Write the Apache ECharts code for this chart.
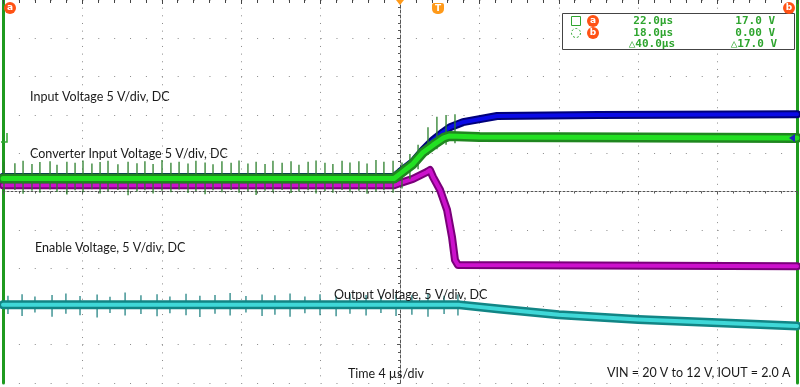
<!DOCTYPE html>
<html><head><meta charset="utf-8">
<script src="https://cdn.jsdelivr.net/npm/echarts@6/dist/echarts.min.js"></script>
<style>html,body{margin:0;padding:0;background:#fff}#c{width:800px;height:387px}</style>
</head><body><div id="c"></div>
<script>
// time in µs (4 µs/div, trigger at 0), voltage in divisions
const blueT  = [-20, -0.3, 0, 0.65, 1.16, 1.66, 2.17, 2.52, 3.17, 4.89, 10, 20];
const blueV  = [0.38, 0.38, 0.51, 0.77, 1.08, 1.34, 1.55, 1.68, 1.81, 1.97, 2.0, 2.02];
const greenT = [-20, -0.3, 0, 0.65, 1.16, 1.66, 2.2, 2.5, 4, 20];
const greenV = [0.34, 0.34, 0.46, 0.72, 1.02, 1.21, 1.40, 1.45, 1.42, 1.40];
const enT    = [-20, -0.3, 0, 0.65, 1.36, 1.51, 1.66, 2.02, 2.37, 2.62, 2.77, 2.92, 20];
const enV    = [0.16, 0.16, 0.22, 0.33, 0.51, 0.56, 0.38, 0.04, -0.48, -1.19, -1.79, -1.92, -1.95];
const outT   = [-20, 3.0, 5.0, 8.0, 12.0, 16.0, 20];
const outV   = [-2.96, -2.96, -3.07, -3.22, -3.34, -3.43, -3.51];

const greenSpikeT  = [-19.95,-19.40,-18.99,-18.54,-18.14,-17.63,-17.28,-16.78,-16.37,-15.97,-15.52,-15.11,-14.71,-14.21,-13.70,-13.25,-12.85,-12.44,-11.99,-11.54,-11.13,-10.68,-10.28,-9.82,-9.42,-8.97,-8.51,-8.11,-7.66,-7.25,-6.80,-6.40,-5.94,-5.49,-5.09,-4.63,-4.23,-3.78,-3.38,-2.92,-2.52,-2.07,-1.66,-1.21,-0.81,-0.35,0.10,0.50,0.91,1.41,1.86,2.32,2.77];
const greenSpikeHi = [0.78,0.74,0.80,0.72,0.77,0.79,0.70,0.78,0.75,0.81,0.73,0.77,0.80,0.71,0.78,0.74,0.79,0.72,0.82,0.75,0.78,0.73,0.80,0.76,0.71,0.79,0.75,0.81,0.73,0.78,0.72,0.80,0.75,0.79,0.70,0.78,0.81,0.75,0.72,0.80,0.76,0.79,0.73,0.82,0.78,0.80,0.76,0.98,1.22,1.68,1.95,2.00,2.02];
const greenSpikeLo = [-0.02,0.04,-0.06,0.02,-0.03,0.05,-0.01,-0.08,0.03,-0.02,0.06,-0.05,0.01,0.04,-0.10,0.00,0.03,-0.05,0.02,-0.02,0.05,-0.04,0.01,-0.07,0.03,-0.02,0.04,-0.03,0.01,-0.09,0.02,-0.02,0.04,-0.04,0.00,0.03,-0.05,0.01,-0.03,0.04,-0.02,0.02,-0.06,0.00,0.03,-0.03,0.08,0.32,0.58,0.95,1.10,1.22,1.26];

const cyanSpikeT  = [-19.75,-19.04,-18.39,-17.53,-16.83,-16.12,-15.26,-14.61,-13.85,-13.05,-12.24,-11.59,-10.78,-10.08,-9.32,-8.56,-7.76,-6.95,-6.30,-5.54,-4.79,-4.03,-3.22,-2.52,-1.71,-0.96,-0.20,0.60,1.41,2.22,2.92];
const cyanSpikeHi = [-2.72,-2.68,-2.74,-2.70,-2.66,-2.73,-2.69,-2.75,-2.64,-2.71,-2.68,-2.74,-2.67,-2.72,-2.70,-2.65,-2.73,-2.69,-2.71,-2.66,-2.74,-2.68,-2.72,-2.67,-2.70,-2.73,-2.68,-2.71,-2.66,-2.72,-2.69];
const cyanSpikeLo = [-3.20,-3.25,-3.16,-3.27,-3.19,-3.23,-3.29,-3.17,-3.24,-3.20,-3.26,-3.18,-3.23,-3.28,-3.19,-3.24,-3.16,-3.25,-3.22,-3.27,-3.18,-3.23,-3.26,-3.19,-3.24,-3.17,-3.25,-3.22,-3.27,-3.20,-3.24];

const labels = {
  input: 'Input Voltage 5 V/div, DC',
  conv: 'Converter Input Voltage 5 V/div, DC',
  enable: 'Enable Voltage, 5 V/div, DC',
  output: 'Output Voltage, 5 V/div, DC',
  time: 'Time 4 µs/div',
  cond: 'VIN = 20 V to 12 V, IOUT = 2.0 A'
};
const cursorRows = [
  ['22.0µs', '17.0 V'],
  ['18.0µs', '0.00 V'],
  ['\u25B340.0µs', '\u25B317.0 V']
];

function zip(t, v) { return t.map((x, i) => [x, v[i]]); }
function zip3(t, a, b) { return t.map((x, i) => [x, a[i], b[i]]); }

function lineSeries(t, v, color, width, z) {
  return { type: 'line', data: zip(t, v), showSymbol: false, symbol: 'none', z: z,
    lineStyle: { color: color, width: width, join: 'round', cap: 'round' }, silent: true, animation: false };
}
function spikeSeries(t, hi, lo, color, width, z) {
  return { type: 'custom', data: zip3(t, hi, lo), z: z, silent: true, animation: false,
    encode: { x: 0, y: [1, 2] },
    renderItem: function (params, api) {
      const p1 = api.coord([api.value(0), api.value(1)]);
      const p2 = api.coord([api.value(0), api.value(2)]);
      return { type: 'line', shape: { x1: p1[0], y1: p1[1], x2: p2[0], y2: p2[1] },
        style: { stroke: color, lineWidth: width } };
    } };
}

const chart = echarts.init(document.getElementById('c'), null, { renderer: 'canvas' });
const font = '12.5px Lato, "Open Sans", sans-serif';
const mono = 'bold 11px "DejaVu Sans Mono", monospace';
const ro = '#ff5214';
const cg = '#2fa52f';

function badge(x, y, letter) {
  return { type: 'group', x: x, y: y, children: [
    { type: 'circle', z: 101, shape: { cx: 0, cy: 0, r: 6 }, style: { fill: ro } },
    { type: 'text', z: 102, x: 0, y: 0, style: { text: letter, fill: '#fff', font: 'bold 9px "DejaVu Sans", sans-serif', align: 'center', verticalAlign: 'middle' } }
  ] };
}
function txt(x, y, s, f, fill, align) {
  return { type: 'text', x: x, y: y, z: 100, style: { text: s, fill: fill, font: f, align: align || 'left', verticalAlign: 'middle' } };
}

const graphics = [
  txt(30, 97, labels.input, font, '#1a1a1a'),
  txt(30, 154, labels.conv, font, '#1a1a1a'),
  txt(35, 248, labels.enable, font, '#1a1a1a'),
  txt(334, 295, labels.output, font, '#1a1a1a'),
  txt(348, 374, labels.time, font, '#1a1a1a'),
  txt(607, 373, labels.cond, font, '#1a1a1a'),
  // cursor readout box
  { type: 'rect', z: 90, shape: { x: 562.5, y: 13.5, width: 232, height: 36 }, style: { fill: '#fff', stroke: '#444', lineWidth: 1 } },
  { type: 'rect', z: 100, shape: { x: 571.5, y: 16.5, width: 9, height: 9 }, style: { fill: 'none', stroke: cg, lineWidth: 1 } },
  { type: 'circle', z: 100, shape: { cx: 576, cy: 33, r: 4.5 }, style: { fill: 'none', stroke: cg, lineWidth: 1, lineDash: [2, 2] } },
  badge(593, 21, 'a'),
  badge(593, 33, 'b'),
  badge(10, 8, 'a'),
  badge(789, 8, 'b'),
  txt(673, 21, cursorRows[0][0], mono, cg, 'right'),
  txt(775, 21, cursorRows[0][1], mono, cg, 'right'),
  txt(673, 33, cursorRows[1][0], mono, cg, 'right'),
  txt(775, 33, cursorRows[1][1], mono, cg, 'right'),
  txt(675, 44, cursorRows[2][0], mono, cg, 'right'),
  txt(777, 44, cursorRows[2][1], mono, cg, 'right'),
  // trigger markers
  { type: 'polygon', z: 100, shape: { points: [[396, 0], [404, 0], [400, 5]] }, style: { fill: '#ff9a1a' } },
  { type: 'group', x: 438, y: 9, children: [
    { type: 'rect', z: 101, shape: { x: -6, y: -6, width: 12, height: 11, r: [2, 2, 5, 5] }, style: { fill: '#ff9a1a' } },
    { type: 'text', z: 102, x: 0, y: -0.5, style: { text: 'T', fill: '#fff', font: 'bold 9px "DejaVu Sans", sans-serif', align: 'center', verticalAlign: 'middle' } }
  ] },
  // channel ground marker
  { type: 'polyline', z: 100, shape: { points: [[7, 133], [7, 142], [1, 142]] }, style: { stroke: cg, lineWidth: 1.5, fill: 'none' } },
  { type: 'polygon', z: 100, shape: { points: [[795, 134], [795, 142], [789, 138]] }, style: { fill: '#2020c0' } }
];

const option = {
  backgroundColor: '#fff',
  animation: false,
  grid: { left: 3, right: 3, top: 0, height: 383 },
  xAxis: [
    { type: 'value', min: -20, max: 20, interval: 4,
      axisLine: { show: true, onZero: true, lineStyle: { color: '#555', type: [2, 2], width: 1 } },
      axisTick: { show: true, length: 3, lineStyle: { color: '#555' } },
      minorTick: { show: true, splitNumber: 5, length: 2, lineStyle: { color: '#555' } },
      axisLabel: { show: false },
      splitLine: { show: true, lineStyle: { color: '#8a8a8a', type: [1, 6.66], width: 1 } } },
    { type: 'value', min: -20, max: 20, interval: 4, position: 'top',
      axisLine: { show: false, onZero: false },
      axisTick: { show: true, inside: true, length: 4, lineStyle: { color: '#444' } },
      minorTick: { show: true, splitNumber: 5, length: 3, lineStyle: { color: '#444' } },
      axisLabel: { show: false }, splitLine: { show: false } }
  ],
  yAxis: [
    { type: 'value', min: -5, max: 5, interval: 1, position: 'left',
      axisLine: { show: true, onZero: true, lineStyle: { color: '#555', type: [3, 2], width: 1 } },
      axisTick: { show: true, length: 3, lineStyle: { color: '#555' } },
      minorTick: { show: true, splitNumber: 5, length: 2, lineStyle: { color: '#555' } },
      axisLabel: { show: false },
      splitLine: { show: true, lineStyle: { color: '#8a8a8a', type: [1, 14.88], width: 1 } } },
    { type: 'value', min: -5, max: 5, position: 'left',
      axisLine: { show: true, onZero: false, lineStyle: { color: '#1f9a1f', width: 3 } },
      axisTick: { show: false }, axisLabel: { show: false }, splitLine: { show: false } },
    { type: 'value', min: -5, max: 5, position: 'right',
      axisLine: { show: true, onZero: false, lineStyle: { color: '#1f9a1f', width: 3 } },
      axisTick: { show: false }, axisLabel: { show: false }, splitLine: { show: false } }
  ],
  series: [
    spikeSeries(cyanSpikeT, cyanSpikeHi, cyanSpikeLo, '#127a7a', 1.2, 2),
    lineSeries(outT, outV, '#128585', 9, 3),
    lineSeries(outT, outV, '#3fd8d8', 4, 4),
    lineSeries(blueT, blueV, '#00007a', 8, 5),
    lineSeries(blueT, blueV, '#0a0ae6', 4, 6),
    lineSeries(enT, enV, '#7a007a', 8, 7),
    lineSeries(enT, enV, '#cc11cc', 4, 8),
    spikeSeries(greenSpikeT, greenSpikeHi, greenSpikeLo, '#2a7f2a', 1.3, 9),
    lineSeries(greenT, greenV, '#1f861f', 10, 10),
    lineSeries(greenT, greenV, '#22e022', 5, 11)
  ],
  graphic: graphics
};
chart.setOption(option);
</script></body></html>
